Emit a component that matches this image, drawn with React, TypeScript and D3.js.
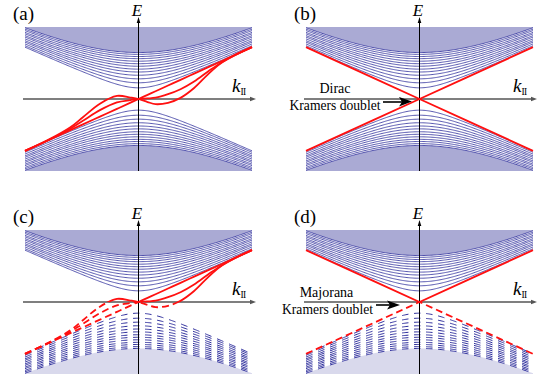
import React from 'react'
import * as d3 from 'd3'

// subband energies at k = 0 and at the panel edge (|k| = 1), innermost first
const bandGap = [0.155, 0.225, 0.28, 0.33, 0.375, 0.415, 0.455, 0.49, 0.525, 0.56, 0.59, 0.62, 0.645]
const bandEdge = [0.72, 0.74, 0.765, 0.79, 0.81, 0.835, 0.86, 0.88, 0.905, 0.925, 0.95, 0.97, 0.99]

// surface states of (a)/(c)
const surfK = [-1, -0.8, -0.6, -0.49, -0.34, -0.19, -0.07, 0, 0.08, 0.15, 0.26, 0.37, 0.49, 0.61, 0.72, 0.85, 1]
const surfLinear = [-0.72, -0.576, -0.432, -0.353, -0.245, -0.137, -0.05, 0, 0.058, 0.108, 0.187, 0.266, 0.353, 0.439, 0.518, 0.612, 0.72]
const surfMid = [-0.72, -0.576, -0.412, -0.303, -0.155, -0.047, -0.015, 0, 0.008, 0.018, 0.067, 0.136, 0.243, 0.379, 0.498, 0.612, 0.72]
const surfBig = [-0.72, -0.571, -0.392, -0.253, -0.065, 0.043, 0.02, 0, -0.042, -0.072, -0.053, 0.016, 0.153, 0.339, 0.488, 0.607, 0.72]

// Dirac cone of (b)/(d)
const coneK = [-1, 0, 1]
const coneUp = [-0.72, 0, 0.72]
const coneDown = [0.72, 0, -0.72]

const panelLabels = ['(a)', '(b)', '(c)', '(d)']
const noteTop = ['', 'Dirac', '', 'Majorana']
const noteBottom = ['', 'Kramers doublet', '', 'Kramers doublet']

const FILL = '#aaaad4'
const FILL_LIGHT = '#d9d9ec'
const BAND = '#2f2f9c'
const RED = '#ff1010'
const serif = '"Liberation Serif", "DejaVu Serif", serif'

const kSamples = d3.range(-1, 1.0001, 0.01)
const band = (n: number, k: number) => {
  const m = bandGap[n]
  const e = bandEdge[n]
  return Math.sqrt(m * m + (e * e - m * m) * k * k)
}

function Panel({ idx, ox, oy }: { idx: number; ox: number; oy: number }) {
  const id = 'p' + idx
  const majorana = idx >= 2
  const cone = idx % 2 === 1
  const x = d3.scaleLinear().domain([-1, 1]).range([ox + 25, ox + 252])
  const y = d3.scaleLinear().domain([-1, 1]).range([oy + 171, oy + 27])
  const x0 = x(0)
  const y0 = y(0)
  const outer = bandGap.length - 1

  const bandPath = (n: number, sign: number) =>
    d3.line<number>().x((k) => x(k)).y((k) => y(sign * band(n, k)))(kSamples) || ''
  const upperFill = d3.area<number>().x((k) => x(k)).y0(y(1)).y1((k) => y(band(outer, k)))(kSamples) || ''
  const lowerFill = d3.area<number>().x((k) => x(k)).y0(y(-1)).y1((k) => y(-band(outer, k)))(kSamples) || ''

  const redLine = d3
    .line<[number, number]>()
    .x((d) => x(d[0]))
    .y((d) => y(d[1]))
    .curve(d3.curveCatmullRom.alpha(0.5))
  const reds = cone
    ? [coneUp, coneDown].map((s) => redLine(coneK.map((k, i) => [k, s[i]])) || '')
    : [surfLinear, surfMid, surfBig].map((s) => redLine(surfK.map((k, i) => [k, s[i]])) || '')

  const ax = ox + 251
  return (
    <g>
      <defs>
        <clipPath id={id + '-top'}>
          <rect x={ox} y={oy} width={268} height={y0 - oy} />
        </clipPath>
        <clipPath id={id + '-bot'}>
          <rect x={ox} y={y0} width={268} height={190} />
        </clipPath>
        <pattern id={id + '-stripe'} patternUnits="userSpaceOnUse" x={ox + 25} y={0} width={12} height={400}>
          <rect x={0} y={0} width={6.5} height={400} fill="white" />
        </pattern>
        <mask id={id + '-mask'} maskUnits="userSpaceOnUse" x={0} y={0} width={537} height={381}>
          <rect x={0} y={0} width={537} height={381} fill={`url(#${id}-stripe)`} />
        </mask>
      </defs>

      <path d={upperFill} fill={FILL} />
      <path d={lowerFill} fill={majorana ? FILL_LIGHT : FILL} />
      <g fill="none" stroke={BAND} strokeWidth={0.8}>
        {bandGap.map((_, n) => (
          <path key={'u' + n} d={bandPath(n, 1)} />
        ))}
      </g>
      <g fill="none" stroke={BAND} strokeWidth={majorana ? 1 : 0.8} mask={majorana ? `url(#${id}-mask)` : undefined}>
        {bandGap.map((_, n) => (
          <path key={'l' + n} d={bandPath(n, -1)} />
        ))}
      </g>

      {/* axes */}
      <line x1={ox + 23} x2={ax} y1={y0} y2={y0} stroke="#555" strokeWidth={1.3} />
      <path d={`M${ax + 5},${y0} L${ax - 1},${y0 - 2.2} L${ax - 1},${y0 + 2.2} Z`} fill="#555" />
      <line x1={x0} x2={x0} y1={oy + 171} y2={oy + 22} stroke="#000" strokeWidth={1} />
      <path d={`M${x0},${oy + 17} L${x0 - 1.8},${oy + 23} L${x0 + 1.8},${oy + 23} Z`} fill="#000" />

      {/* surface states */}
      <g fill="none" stroke={RED} strokeWidth={1.8} clipPath={majorana ? `url(#${id}-top)` : undefined}>
        {reds.map((d, i) => (
          <path key={i} d={d} />
        ))}
      </g>
      {majorana && (
        <g fill="none" stroke={RED} strokeWidth={1.8} strokeDasharray="7,4" clipPath={`url(#${id}-bot)`}>
          {reds.map((d, i) => (
            <path key={i} d={d} />
          ))}
        </g>
      )}

      {/* labels */}
      <text x={ox + 13} y={oy + 20} fontFamily={serif} fontSize={19}>
        {panelLabels[idx]}
      </text>
      <text x={x0 - 1.5} y={oy + 15.5} fontFamily={serif} fontStyle="italic" fontSize={17} textAnchor="middle">
        E
      </text>
      <text x={ox + 232} y={y0 - 7} fontFamily={serif} fontStyle="italic" fontSize={19}>
        k
        <tspan fontStyle="normal" fontSize={9.5} dy={3} letterSpacing={-0.6}>
          II
        </tspan>
      </text>

      {noteTop[idx] && (
        <g fontFamily={serif} fontSize={14} textAnchor="middle">
          <text x={idx === 1 ? ox + 54 : ox + 45.5} y={idx === 1 ? y0 - 6 : y0 - 5.5}>
            {noteTop[idx]}
          </text>
          <text x={idx === 1 ? ox + 54 : ox + 46.5} y={idx === 1 ? y0 + 11 : y0 + 12} fontSize={13.6}>
            {noteBottom[idx]}
          </text>
          <line
            x1={idx === 1 ? ox + 102 : ox + 95}
            x2={idx === 1 ? ox + 121 : ox + 109}
            y1={y0 + 3}
            y2={y0 + 3}
            stroke="#000"
            strokeWidth={1.6}
          />
          <path
            d={
              idx === 1
                ? `M${ox + 131},${y0 + 2.5} L${ox + 118},${y0 - 2} L${ox + 121},${y0 + 3} L${ox + 118},${y0 + 7.5} Z`
                : `M${ox + 119},${y0 + 3} L${ox + 106},${y0 - 1.5} L${ox + 109},${y0 + 3} L${ox + 106},${y0 + 7.5} Z`
            }
            fill="#000"
          />
        </g>
      )}
    </g>
  )
}

export default function App() {
  const offsets = [
    [0, 0],
    [281, 0],
    [0, 203],
    [281, 203],
  ]
  return (
    <svg width={537} height={381} style={{ position: 'absolute', left: 0, top: 0, background: '#fff' }}>
      {offsets.map(([ox, oy], i) => (
        <Panel key={i} idx={i} ox={ox} oy={oy} />
      ))}
    </svg>
  )
}
